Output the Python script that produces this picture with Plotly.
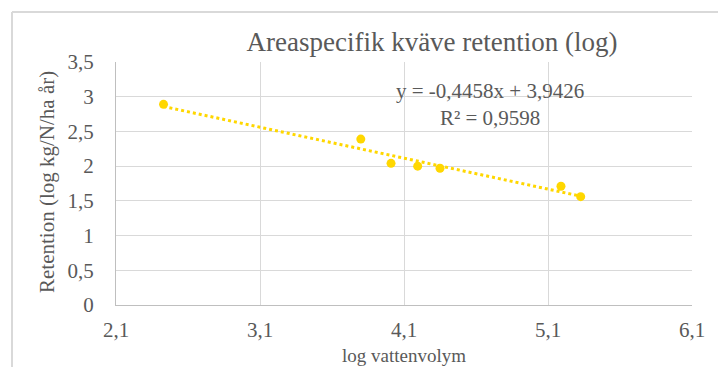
import plotly.graph_objects as go

# Data
log_volume = [2.43, 3.80, 4.01, 4.195, 4.35, 5.19, 5.327]
log_retention = [2.89, 2.39, 2.04, 2.00, 1.97, 1.71, 1.56]

slope = -0.4458
intercept = 3.9426
r2 = 0.9598

x_ticks = [2.1, 3.1, 4.1, 5.1, 6.1]
x_tick_labels = ["2,1", "3,1", "4,1", "5,1", "6,1"]
y_ticks = [0, 0.5, 1, 1.5, 2, 2.5, 3, 3.5]
y_tick_labels = ["0", "0,5", "1", "1,5", "2", "2,5", "3", "3,5"]

title_text = "Areaspecifik kväve retention (log)"
x_title = "log vattenvolym"
y_title = "Retention (log kg/N/ha år)"

GOLD = "#FFD700"
GRID = "#D9D9D9"
TEXT = "#595959"
FONT = "Liberation Serif, Times New Roman, serif"

# The page body adds an 8px margin, so the figure is drawn 8px smaller
# and all screen positions are shifted by OFF.
OFF = 8
W, H = 726 - OFF, 367 - OFF
L, R, T, B = 116 - OFF, 726 - 692, 62 - OFF, 367 - 305
pw, ph = W - L - R, H - T - B

trend_x = [min(log_volume), max(log_volume)]
trend_y = [slope * v + intercept for v in trend_x]

fig = go.Figure()
fig.add_trace(go.Scatter(
    x=trend_x, y=trend_y, mode="lines",
    line=dict(color=GOLD, width=3, dash="dot"),
    hoverinfo="skip", showlegend=False,
))
fig.add_trace(go.Scatter(
    x=log_volume, y=log_retention, mode="markers",
    marker=dict(color=GOLD, size=9),
    showlegend=False,
))

def px_x(p):
    # screen pixel -> paper x
    return (p - OFF - L) / pw

def px_y(p):
    # screen pixel -> paper y
    return (H - B - (p - OFF)) / ph

# Chart-area border (left and top, as in the cropped Excel chart)
fig.add_shape(type="line", xref="paper", yref="paper",
              x0=px_x(12), x1=px_x(12), y0=px_y(12), y1=px_y(370),
              line=dict(color=GRID, width=2))
fig.add_shape(type="line", xref="paper", yref="paper",
              x0=px_x(12), x1=px_x(730), y0=px_y(12), y1=px_y(12),
              line=dict(color=GRID, width=2))

fig.add_annotation(
    xref="paper", yref="paper", x=px_x(490), y=px_y(104),
    text=f"y = {str(slope).replace('.', ',')}x + {str(intercept).replace('.', ',')}<br>R² = {str(r2).replace('.', ',')}",
    showarrow=False, font=dict(family=FONT, size=21, color=TEXT),
    align="center", xanchor="center", yanchor="middle",
)

# Axis titles
fig.add_annotation(
    xref="paper", yref="paper", x=px_x(47), y=px_y(182),
    text=y_title, textangle=-90, showarrow=False,
    font=dict(family=FONT, size=21, color=TEXT),
    xanchor="center", yanchor="middle",
)
fig.add_annotation(
    xref="paper", yref="paper", x=px_x(404), y=px_y(367),
    text=x_title, showarrow=False,
    font=dict(family=FONT, size=19, color=TEXT),
    xanchor="center", yanchor="bottom", borderpad=0,
)

fig.update_layout(
    width=W, height=H,
    margin=dict(l=L, r=R, t=T, b=B, pad=0),
    paper_bgcolor="white", plot_bgcolor="white",
    font=dict(family=FONT, size=21, color=TEXT),
    title=dict(text=title_text, x=(432 - OFF) / W, xanchor="center",
               y=1 - (42 - OFF) / H, yanchor="middle",
               xref="container", yref="container",
               font=dict(family=FONT, size=27, color=TEXT)),
    xaxis=dict(range=[2.1, 6.1], tickvals=x_ticks, ticktext=x_tick_labels,
               showgrid=True, gridcolor=GRID, gridwidth=1,
               zeroline=False, showline=True, linecolor="#BFBFBF", linewidth=1,
               ticks="", ticklabelstandoff=6, automargin=False,
               tickfont=dict(family=FONT, size=21, color=TEXT)),
    yaxis=dict(range=[0, 3.5], tickvals=y_ticks, ticktext=y_tick_labels,
               showgrid=True, gridcolor=GRID, gridwidth=1,
               zeroline=False, showline=True, linecolor="#BFBFBF", linewidth=1,
               ticks="", ticklabelstandoff=17, automargin=False),
)

fig.write_html("out.html")
